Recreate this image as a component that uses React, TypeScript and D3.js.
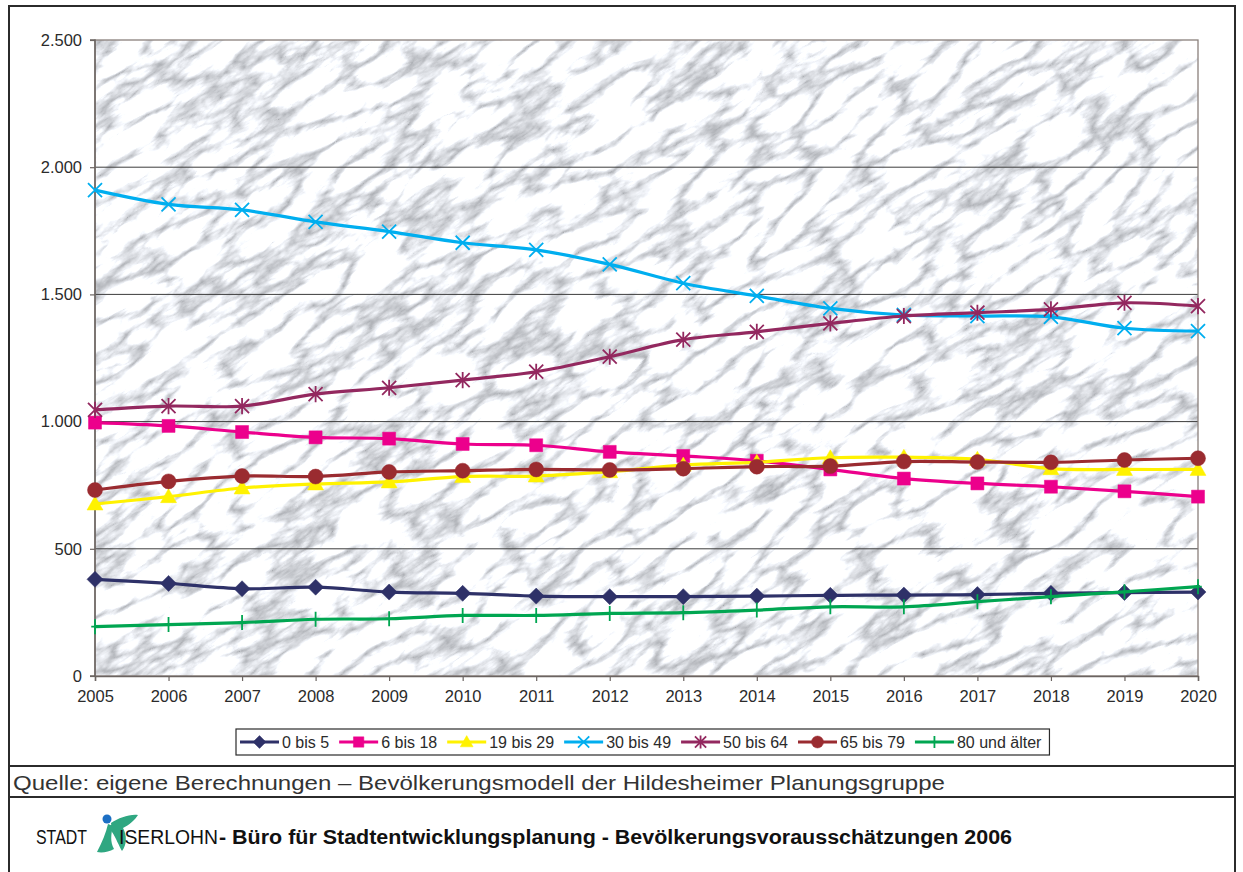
import React, { useEffect, useRef } from "react";
import * as d3 from "d3";

// Bevölkerungsvorausschätzung Iserlohn 2005-2020, nach Altersgruppen
const years = [2005, 2006, 2007, 2008, 2009, 2010, 2011, 2012, 2013, 2014, 2015, 2016, 2017, 2018, 2019, 2020];
const yTicks = [0, 500, 1000, 1500, 2000, 2500];

const seriesNames = ["0 bis 5", "6 bis 18", "19 bis 29", "30 bis 49", "50 bis 64", "65 bis 79", "80 und älter"];
const seriesColors = ["#2e3168", "#ec008c", "#fff200", "#00aeef", "#93285f", "#9a2b30", "#00a651"];
const seriesMarkers = ["diamond", "square", "triangle", "x", "star", "circle", "plus"];

const age0to5 = [380, 364, 343, 349, 330, 325, 314, 312, 312, 314, 317, 318, 320, 325, 328, 330];
const age6to18 = [996, 983, 959, 938, 933, 912, 907, 881, 865, 846, 812, 776, 757, 744, 726, 705];
const age19to29 = [676, 705, 739, 755, 763, 784, 786, 803, 829, 840, 858, 860, 852, 815, 812, 812];
const age30to49 = [1910, 1854, 1832, 1785, 1747, 1703, 1675, 1618, 1544, 1494, 1445, 1419, 1415, 1412, 1367, 1356];
const age50to64 = [1046, 1061, 1061, 1108, 1133, 1163, 1196, 1255, 1322, 1353, 1386, 1415, 1428, 1441, 1467, 1454];
const age65to79 = [731, 765, 786, 784, 802, 807, 812, 810, 815, 823, 825, 843, 841, 840, 849, 856];
const age80plus = [194, 202, 210, 223, 225, 238, 238, 246, 249, 259, 272, 272, 292, 312, 331, 351];

const seriesValues = [age0to5, age6to18, age19to29, age30to49, age50to64, age65to79, age80plus];

const sourceText = "Quelle: eigene Berechnungen – Bevölkerungsmodell der Hildesheimer Planungsgruppe";
const footerText = " - Büro für Stadtentwicklungsplanung - Bevölkerungsvorausschätzungen 2006";

const FONT = "'Liberation Sans', Arial, Helvetica, sans-serif";

// marker shapes, s = half size
const markerPath = (type: string, s: number) => {
  switch (type) {
    case "diamond":
      return `M0,${-s}L${s},0L0,${s}L${-s},0Z`;
    case "square":
      return `M${-s},${-s}H${s}V${s}H${-s}Z`;
    case "triangle":
      return `M0,${-s}L${s},${s * 0.75}L${-s},${s * 0.75}Z`;
    case "x":
      return `M${-s},${-s}L${s},${s}M${-s},${s}L${s},${-s}`;
    case "star":
      return `M${-s},${-s}L${s},${s}M${-s},${s}L${s},${-s}M0,${-s * 1.15}L0,${s * 1.15}`;
    case "plus":
      return `M0,${-s}L0,${s}M${-s * 0.5},0L${s * 0.5},0`;
    default:
      return d3.symbol(d3.symbolCircle, Math.PI * s * s)() as string;
  }
};
const markerSize: Record<string, number> = { diamond: 8, square: 6.5, triangle: 8, x: 7, star: 7, circle: 7.5, plus: 7.5 };
const strokeMarkers = ["x", "star", "plus"];

const App = () => {
  const ref = useRef<SVGSVGElement>(null);

  useEffect(() => {
    const svg = d3.select(ref.current);
    svg.selectAll("*").remove();

    const plot = { left: 95, right: 1198, top: 40, bottom: 676 };
    const x = d3.scaleLinear().domain([2005, 2020]).range([plot.left, plot.right]);
    const y = d3.scaleLinear().domain([0, 2500]).range([plot.bottom, plot.top]);
    const de = d3.formatLocale({ decimal: ",", thousands: ".", grouping: [3], currency: ["", " €"] });
    const fmt = de.format(",d");

    svg.append("rect").attr("width", 1243).attr("height", 872).attr("fill", "#fff");

    // marble texture
    const defs = svg.append("defs");
    const filter = defs
      .append("filter")
      .attr("id", "marble")
      .attr("x", 0)
      .attr("y", 0)
      .attr("width", 1)
      .attr("height", 1)
      .attr("color-interpolation-filters", "sRGB");
    filter
      .append("feTurbulence")
      .attr("type", "turbulence")
      .attr("baseFrequency", "0.014 0.04")
      .attr("numOctaves", 5)
      .attr("seed", 11)
      .attr("result", "noise");
    filter
      .append("feColorMatrix")
      .attr("in", "noise")
      .attr("type", "matrix")
      .attr("values", "1.05 0 0 0 0.65  1.05 0 0 0 0.66  1.05 0 0 0 0.68  0 0 0 0 1");
    defs
      .append("clipPath")
      .attr("id", "plotClip")
      .append("rect")
      .attr("x", plot.left)
      .attr("y", plot.top)
      .attr("width", plot.right - plot.left)
      .attr("height", plot.bottom - plot.top);

    svg
      .append("g")
      .attr("clip-path", "url(#plotClip)")
      .append("g")
      .attr("transform", `translate(${(plot.left + plot.right) / 2},${(plot.top + plot.bottom) / 2}) rotate(-33)`)
      .append("rect")
      .attr("x", -800)
      .attr("y", -800)
      .attr("width", 1600)
      .attr("height", 1600)
      .attr("filter", "url(#marble)");

    // gridlines
    svg
      .append("g")
      .selectAll("line")
      .data(yTicks.slice(1, -1))
      .enter()
      .append("line")
      .attr("x1", plot.left)
      .attr("x2", plot.right)
      .attr("y1", (d) => y(d))
      .attr("y2", (d) => y(d))
      .attr("stroke", "#3c3c3c")
      .attr("stroke-width", 1);

    svg
      .append("rect")
      .attr("x", plot.left)
      .attr("y", plot.top)
      .attr("width", plot.right - plot.left)
      .attr("height", plot.bottom - plot.top)
      .attr("fill", "none")
      .attr("stroke", "#8a807c")
      .attr("stroke-width", 1.3);

    // axes
    const yAxis = d3.axisLeft(y).tickValues(yTicks).tickSize(5).tickPadding(8).tickFormat((d) => fmt(d as number));
    const xAxis = d3.axisBottom(x).tickValues(years).tickSize(5).tickPadding(9).tickFormat((d) => String(d));

    const gy = svg.append("g").attr("transform", `translate(${plot.left},0)`).call(yAxis);
    const gx = svg.append("g").attr("transform", `translate(0,${plot.bottom})`).call(xAxis);
    [gx, gy].forEach((g) => {
      g.select(".domain").attr("stroke", "#6b6461").attr("stroke-width", 1.5);
      g.selectAll(".tick line").attr("stroke", "#6b6461").attr("stroke-width", 1.2);
      g.selectAll("text").attr("font-family", FONT).attr("font-size", 16.5).attr("fill", "#2b2b2b");
    });
    gy.select(".domain").attr("d", `M-5,${plot.top}H0V${plot.bottom}H-5`);

    // series
    const line = d3
      .line<number>()
      .x((d, i) => x(years[i]))
      .y((d) => y(d))
      .curve(d3.curveCatmullRom.alpha(0.5));

    seriesValues.forEach((vals, si) => {
      const g = svg.append("g");
      const color = seriesColors[si];
      const type = seriesMarkers[si];
      g.append("path")
        .attr("d", line(vals))
        .attr("fill", "none")
        .attr("stroke", color)
        .attr("stroke-width", 3.2)
        .attr("stroke-linejoin", "round");
      const stroked = strokeMarkers.includes(type);
      g.selectAll("path.m")
        .data(vals)
        .enter()
        .append("path")
        .attr("class", "m")
        .attr("transform", (d, i) => `translate(${x(years[i])},${y(d)})`)
        .attr("d", markerPath(type, markerSize[type]))
        .attr("fill", stroked ? "none" : color)
        .attr("stroke", color)
        .attr("stroke-width", stroked ? 1.8 : 0.5);
    });

    // legend
    const legend = svg.append("g");
    const box = legend
      .append("rect")
      .attr("y", 729)
      .attr("height", 26)
      .attr("fill", "#fff")
      .attr("stroke", "#2b2b2b")
      .attr("stroke-width", 1.2);
    let lx = 240;
    seriesNames.forEach((name, si) => {
      const color = seriesColors[si];
      const type = seriesMarkers[si];
      const stroked = strokeMarkers.includes(type);
      legend
        .append("line")
        .attr("x1", lx)
        .attr("x2", lx + 39)
        .attr("y1", 742)
        .attr("y2", 742)
        .attr("stroke", color)
        .attr("stroke-width", 3.2);
      legend
        .append("path")
        .attr("transform", `translate(${lx + 19.5},742)`)
        .attr("d", markerPath(type, markerSize[type] * 0.8))
        .attr("fill", stroked ? "none" : color)
        .attr("stroke", color)
        .attr("stroke-width", stroked ? 1.8 : 0.5);
      const t = legend
        .append("text")
        .attr("x", lx + 42)
        .attr("y", 748)
        .attr("font-family", FONT)
        .attr("font-size", 16)
        .attr("fill", "#2b2b2b")
        .text(name);
      const w = (t.node() as SVGTextElement).getComputedTextLength();
      lx = lx + 42 + w + 10;
    });
    box.attr("x", 236).attr("width", lx - 236 - 2);

    // outer frame and footer
    svg
      .append("rect")
      .attr("x", 9)
      .attr("y", 6)
      .attr("width", 1226)
      .attr("height", 900)
      .attr("fill", "none")
      .attr("stroke", "#2b2b2b")
      .attr("stroke-width", 2);
    [766, 797].forEach((ly) =>
      svg.append("line").attr("x1", 9).attr("x2", 1235).attr("y1", ly).attr("y2", ly).attr("stroke", "#2b2b2b").attr("stroke-width", 2)
    );

    svg
      .append("text")
      .attr("x", 13)
      .attr("y", 790)
      .attr("font-family", FONT)
      .attr("font-size", 21)
      .attr("fill", "#333")
      .attr("textLength", 932)
      .attr("lengthAdjust", "spacingAndGlyphs")
      .text(sourceText);

    const foot = svg.append("g");
    // logo
    foot
      .append("path")
      .attr(
        "d",
        "M97,852 C102,842 106,833 108,824 L113,826 C111,834 110,842 114,849 C109,852 102,853 97,852 Z M111,823 C119,818 129,814 138,815 C135,820 129,825 123,828 C127,835 127,845 122,851 C119,846 116,838 112,832 Z"
      )
      .attr("fill", "#2fa781");
    foot.append("circle").attr("cx", 107).attr("cy", 819).attr("r", 4.5).attr("fill", "#1c6fc4");
    foot
      .append("text")
      .attr("x", 36)
      .attr("y", 844)
      .attr("font-family", FONT)
      .attr("font-size", 21)
      .attr("fill", "#111")
      .attr("textLength", 51)
      .attr("lengthAdjust", "spacingAndGlyphs")
      .text("STADT");
    foot
      .append("text")
      .attr("x", 119)
      .attr("y", 844)
      .attr("font-family", FONT)
      .attr("font-size", 21)
      .attr("fill", "#111")
      .attr("textLength", 99)
      .attr("lengthAdjust", "spacingAndGlyphs")
      .text("ISERLOHN");
    foot
      .append("text")
      .attr("x", 219)
      .attr("y", 844)
      .attr("font-family", FONT)
      .attr("font-size", 20)
      .attr("font-weight", "bold")
      .attr("fill", "#111")
      .attr("textLength", 793)
      .attr("lengthAdjust", "spacingAndGlyphs")
      .text(footerText);
  }, []);

  return (
    <div style={{ position: "absolute", left: 0, top: 0 }}>
      <svg ref={ref} width={1243} height={872} />
    </div>
  );
};

export default App;
